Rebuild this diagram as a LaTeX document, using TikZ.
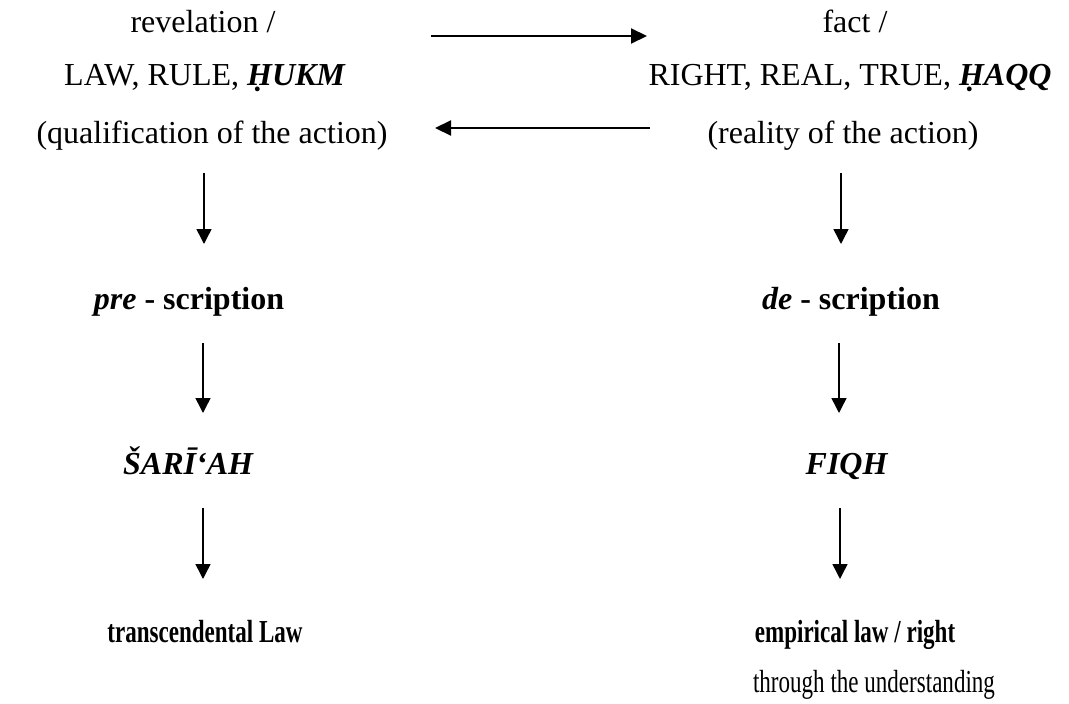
\documentclass[tikz,border=0pt]{standalone}
\usepackage{fontspec}
\setmainfont{Liberation Serif}
\usetikzlibrary{arrows.meta}
\begin{document}
\begin{tikzpicture}[x=1pt,y=1pt,
  txt/.style={anchor=base,inner sep=0pt,font=\fontsize{32}{38}\selectfont},
  hconn/.style={line width=2.1pt,-{Triangle[length=16pt,width=15pt]}},
  vconn/.style={line width=1.5pt,-{Triangle[length=15pt,width=15pt]}}]
\useasboundingbox (0,0) rectangle (1069,-704);
% left column
\node[txt] (rev)  at (203,-32) {revelation /};
\node[txt] (law)  at (205,-85) {LAW, RULE, \textbf{\textit{ḤUKM}}};
\node[txt] (qual) at (212,-143) {(qualification of the action)};
\node[txt] (pre)  at (189,-309) {\textbf{\textit{pre}} \textbf{- scription}};
\node[txt] (sar)  at (188.5,-474) {\textbf{\textit{ŠARĪ‘AH}}};
\node[txt] (trans) at (205,-642) {\scalebox{0.72}[1]{\textbf{transcendental Law}}};
% right column
\node[txt] (fact) at (855,-32) {fact /};
\node[txt] (right) at (850,-85) {RIGHT, REAL, TRUE, \textbf{\textit{ḤAQQ}}};
\node[txt] (real) at (843,-143) {(reality of the action)};
\node[txt] (de)   at (851,-309) {\textbf{\textit{de}} \textbf{- scription}};
\node[txt] (fiqh) at (847,-474) {\textbf{\textit{FIQH}}};
\node[txt] (emp)  at (855,-642) {\scalebox{0.72}[1]{\textbf{empirical law / right}}};
\node[txt] (thr)  at (874,-692) {\scalebox{0.72}[1]{through the understanding}};
% arrow ends
\coordinate (h1a) at (431,-36);  \coordinate (h1b) at (647,-36);
\coordinate (h2a) at (650,-128); \coordinate (h2b) at (435,-128);
\coordinate (l1a) at (204,-173); \coordinate (l1b) at (204,-244);
\coordinate (l2a) at (203,-343); \coordinate (l2b) at (203,-413);
\coordinate (l3a) at (203,-508); \coordinate (l3b) at (203,-579);
\coordinate (r1a) at (841,-173); \coordinate (r1b) at (841,-244);
\coordinate (r2a) at (839,-343); \coordinate (r2b) at (839,-413);
\coordinate (r3a) at (840,-508); \coordinate (r3b) at (840,-579);
\draw[hconn] (h1a) -- (h1b);
\draw[hconn] (h2a) -- (h2b);
\draw[vconn] (l1a) -- (l1b);
\draw[vconn] (l2a) -- (l2b);
\draw[vconn] (l3a) -- (l3b);
\draw[vconn] (r1a) -- (r1b);
\draw[vconn] (r2a) -- (r2b);
\draw[vconn] (r3a) -- (r3b);
\end{tikzpicture}
\end{document}
